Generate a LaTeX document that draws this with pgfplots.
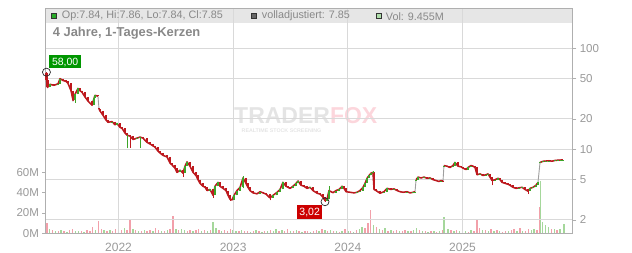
\documentclass[border=0pt]{standalone}
\usepackage{fontspec}
\setmainfont{Liberation Sans}
\setsansfont{Liberation Sans}
\usepackage{pgfplots}
\pgfplotsset{compat=1.18}
\definecolor{cred}{RGB}{190,25,30}
\definecolor{cgreen}{RGB}{60,165,40}
\definecolor{vpink}{RGB}{242,160,170}
\definecolor{vgreen}{RGB}{165,215,155}
\definecolor{lbl}{RGB}{153,153,153}
\definecolor{hdr}{RGB}{136,136,136}
\definecolor{gridc}{RGB}{217,217,217}
\definecolor{axc}{RGB}{175,175,175}
\definecolor{band}{RGB}{230,230,230}
\definecolor{tfgray}{RGB}{228,228,228}
\definecolor{tfpink}{RGB}{252,214,220}
\definecolor{lgreen}{RGB}{0,150,0}
\definecolor{lred}{RGB}{204,0,0}
\definecolor{hgreen}{RGB}{40,170,40}
\definecolor{hvol}{RGB}{175,222,170}
\begin{document}
\begin{tikzpicture}
\path[use as bounding box] (-45.5pt,-19.7pt) rectangle (586.5pt,233.3pt);
\fill[band] (0pt,210.6pt) rectangle (526.8pt,225pt);
\node[anchor=base west, inner sep=0pt, font=\bfseries\fontsize{23}{23}\selectfont] at (188.5pt,109.3pt) {\textcolor{tfgray}{TRADER}\textcolor{tfpink}{FOX}};
\node[font=\bfseries\fontsize{5.3}{5.3}\selectfont, text=tfgray, inner sep=0pt] at (236pt,102.5pt) {REALTIME STOCK SCREENING};
% volume axis
\begin{axis}[at={(0pt,0pt)}, anchor=south west, scale only axis, width=526.8pt, height=225pt,
  xmin=4.36, xmax=59.49, ymin=0, ymax=222,
  axis line style={draw=none}, xtick=\empty,
  ytick={0,20,40,60}, yticklabels={0M,20M,40M,60M},
  ytick pos=left, tick align=outside, major tick length=3pt,
  tick style={draw=axc, line width=0.6pt},
  yticklabel style={font=\fontsize{11.5}{11.5}\selectfont, text=lbl}]
\addplot[ycomb, draw=vpink, line width=1.4pt, mark=none] coordinates {
(4.5,10)(5.1,3)(5.7,2.5)(6.3,2)(6.9,3.5)(7.2,4)(8.1,2)(8.7,3)(9.0,2)(9.3,6)(9.9,12)(10.2,4)(10.8,2.5)(11.4,2)(11.7,4)(12.3,3)(12.9,3)(13.2,13)(13.8,3)(14.4,2)(15.0,2)(15.3,3)(15.9,5)(16.2,3)(16.8,2.5)(17.4,4)(17.7,17)(18.3,3)(19.2,2.5)(19.5,3.5)(20.1,3)(20.4,4)(21.0,3)(21.6,3)(22.5,3)(23.1,3)(23.4,2)(23.7,4.5)(24.6,2.5)(25.2,2)(25.5,2.5)(26.1,2)(26.7,2)(27.3,2.5)(27.9,3)(28.8,2.5)(29.4,2)(29.7,4)(30.3,2)(30.9,2)(31.5,2)(31.8,2.5)(32.4,2)(32.7,3)(33.3,4.5)(33.9,2.5)(34.5,2)(35.1,1.5)(35.7,4)(36.3,2)(36.9,3)(37.8,5)(38.1,10)(38.4,23)(39.0,6)(39.6,3)(40.2,2.5)(40.8,2)(41.1,3)(41.7,2.5)(42.0,3.5)(42.6,2)(43.5,3)(44.1,2)(44.7,2.5)(45.3,1.5)(45.9,3)(46.8,3)(47.4,3)(48.0,2.5)(48.6,1.5)(49.2,2)(49.5,13)(49.8,5)(50.4,3)(51.0,4)(51.6,3)(52.2,1.5)(52.5,2.5)(53.1,3)(53.4,4)(54.0,5)(54.6,2)(54.9,4)(55.8,3)(56.05,26)(57.3,4)(57.9,3)};
\addplot[ycomb, draw=vgreen, line width=1.4pt, mark=none] coordinates {
(4.8,4)(5.4,2)(6.0,3)(6.6,1.5)(7.5,2.5)(7.8,2)(8.4,1.5)(9.6,3)(10.5,3.5)(11.1,3)(12.0,2.5)(12.6,5)(13.5,4)(14.1,2.5)(14.7,3.5)(15.6,2)(16.5,2)(17.1,3)(18.0,4)(18.6,4.5)(18.9,3)(19.8,2)(20.7,2.5)(21.3,2)(21.9,11.5)(22.2,5)(22.8,2.5)(24.0,3)(24.3,2)(24.9,3.5)(25.8,1.5)(26.4,3)(27.0,1.5)(27.6,2)(28.2,2)(28.5,4)(29.1,3)(30.0,2.5)(30.6,3)(31.2,1.5)(32.1,1.5)(33.0,2)(33.6,3)(34.2,3.5)(34.8,2)(35.4,2.5)(36.0,2)(36.6,1.5)(37.2,4)(37.5,6)(38.7,8)(39.3,4)(39.9,5)(40.5,3)(41.4,2)(42.3,2)(42.9,3)(43.2,5)(43.8,2)(44.4,1.5)(45.0,2)(45.6,2)(46.06,15.6)(46.5,4)(47.1,2.5)(47.7,2)(48.3,2)(48.9,3)(50.1,3.5)(50.7,2.5)(51.3,2)(51.9,2)(52.8,2)(53.7,2)(54.3,2.5)(55.2,3)(55.5,4)(56.17,52)(56.4,11)(56.7,8)(57.0,6)(57.6,4.5)(58.2,4)(58.6,9.5)};
\end{axis}
% price axis
\begin{axis}[at={(0pt,0pt)}, anchor=south west, scale only axis, width=526.8pt, height=225pt,
  xmin=4.36, xmax=59.49, ymode=log, ymin=1.472, ymax=248.9,
  clip=false, unbounded coords=jump,
  axis line style={draw=axc, line width=0.8pt},
  xtick={12,24,36,48}, xticklabels={2022,2023,2024,2025}, xtick pos=left,
  x tick style={draw=none},
  xticklabel style={font=\fontsize{12}{12}\selectfont, text=lbl, yshift=-2.4pt},
  ytick={2,5,10,20,50,100}, yticklabels={2,5,10,20,50,100},
  ytick pos=right, yticklabel pos=right,
  y tick style={draw=axc, line width=0.6pt}, tick align=outside, major tick length=4pt,
  yticklabel style={font=\fontsize{11.5}{11.5}\selectfont, text=lbl},
  minor tick num=0,
  xmajorgrids, ymajorgrids, grid style={draw=gridc, line width=0.9pt}]
% adjusted close line
\addplot[draw=gray!75, line width=0.9pt, mark=none] coordinates {
(4.46,48)(4.57,41)(4.83,44)(5.25,43)(5.67,44.5)(5.88,50)(6.19,48)(6.51,47)(6.71,45)(7.03,38)(7.24,30.5)(7.45,35)(7.76,40)(7.97,38)(8.18,36.7)(8.49,33)(8.81,30)(9.23,27.3)(9.44,32)(9.54,34.2)(9.85,33.6)(9.96,25)(10.06,24)(10.38,21.7)(10.69,19.5)(10.90,18.5)(11.32,18.8)(11.63,17.5)(11.84,18)(12.16,16.5)(12.37,16.1)(12.68,14.5)(12.89,13.8)(13.20,13.5)(13.52,12.5)(13.94,12.9)(14.25,13.2)(14.56,12.9)(14.98,11.7)(15.29,11.3)(15.61,10.8)(15.82,10.5)(16.13,9.6)(16.34,9.2)(16.66,8.7)(17.08,8.4)(17.39,7.3)(17.60,7.0)(17.91,6.5)(18.12,5.9)(18.44,6.2)(18.75,5.8)(18.96,6.8)(19.17,7.5)(19.48,6.8)(19.80,5.9)(20.11,5.5)(20.32,5.0)(20.53,4.6)(20.85,4.3)(21.06,4.2)(21.27,3.9)(21.58,4.0)(21.89,3.5)(22.10,4.3)(22.41,4.7)(22.62,4.3)(22.94,4.1)(23.25,3.9)(23.46,3.5)(23.67,3.2)(23.88,3.15)(24.09,3.5)(24.40,3.9)(24.72,4.2)(25.03,5.2)(25.34,4.6)(25.55,4.2)(25.76,3.9)(26.08,3.7)(26.49,3.62)(26.81,3.8)(27.12,3.7)(27.44,3.6)(27.85,3.3)(28.17,3.5)(28.59,3.75)(28.90,4.0)(29.21,4.7)(29.53,4.3)(29.74,4.2)(29.95,4.1)(30.26,4.3)(30.58,4.6)(30.79,4.85)(31.10,4.4)(31.41,4.3)(31.73,4.1)(32.04,4.2)(32.36,3.9)(32.78,3.67)(33.09,3.6)(33.40,3.35)(33.61,3.1)(33.82,3.2)(34.03,3.9)(34.24,3.8)(34.45,3.72)(34.76,3.9)(35.08,4.0)(35.39,4.3)(35.60,4.1)(35.81,3.8)(36.23,3.75)(36.65,3.7)(36.96,3.75)(37.27,3.9)(37.59,4.2)(37.80,4.6)(38.01,5.16)(38.22,5.5)(38.43,5.8)(38.63,5.9)(38.74,4.0)(38.95,3.9)(39.37,3.67)(39.78,3.8)(40.10,4.1)(40.52,4.0)(40.83,4.05)(41.15,3.9)(41.46,3.8)(41.78,3.75)(42.19,3.8)(42.51,3.7)(42.82,3.75)(43.03,3.8)(43.14,5.0)(43.35,5.3)(43.66,5.2)(43.97,5.3)(44.29,5.16)(44.60,5.2)(44.92,5.0)(45.23,4.9)(45.54,4.8)(45.75,4.9)(45.96,4.85)(46.06,6.9)(46.38,6.8)(46.69,6.6)(47.00,6.9)(47.21,7.4)(47.53,6.8)(47.84,6.7)(48.05,6.5)(48.37,6.3)(48.58,6.6)(48.89,6.9)(49.10,6.8)(49.31,6.6)(49.52,5.6)(49.84,5.7)(50.15,5.5)(50.46,5.6)(50.67,5.7)(50.88,5.3)(51.09,4.9)(51.40,5.0)(51.72,5.16)(51.93,5.0)(52.14,4.7)(52.45,4.6)(52.76,4.5)(52.97,4.4)(53.29,4.2)(53.60,4.1)(53.91,4.15)(54.23,4.2)(54.54,4.0)(54.85,3.85)(55.06,4.1)(55.38,4.2)(55.69,4.4)(55.90,4.7)(56.11,7.4)(56.42,7.6)(56.73,7.65)(57.05,7.7)(57.36,7.62)(57.68,7.75)(57.99,7.8)(58.30,7.83)(58.51,7.85)};
% daily candle ribbon (close path, broken at gaps)
\addplot[draw=cred, line width=1.5pt, line join=round, mark=none] coordinates {
(4.46,48)(4.57,41)(4.83,44)(5.25,43)(5.67,44.5)(5.88,50)(6.19,48)(6.51,47)(6.71,45)(7.03,38)(7.24,30.5)(7.45,35)(7.76,40)(7.97,38)(8.18,36.7)(8.49,33)(8.81,30)(9.23,27.3)(9.44,32)(9.54,34.2)(9.85,33.6)(9.90,nan)(9.96,25)(10.06,24)(10.38,21.7)(10.69,19.5)(10.90,18.5)(11.32,18.8)(11.63,17.5)(11.84,18)(12.16,16.5)(12.37,16.1)(12.68,14.5)(12.89,13.8)(13.20,13.5)(13.52,12.5)(13.94,12.9)(14.25,13.2)(14.56,12.9)(14.98,11.7)(15.29,11.3)(15.61,10.8)(15.82,10.5)(16.13,9.6)(16.34,9.2)(16.66,8.7)(17.08,8.4)(17.39,7.3)(17.60,7.0)(17.91,6.5)(18.12,5.9)(18.44,6.2)(18.75,5.8)(18.96,6.8)(19.17,7.5)(19.48,6.8)(19.80,5.9)(20.11,5.5)(20.32,5.0)(20.53,4.6)(20.85,4.3)(21.06,4.2)(21.27,3.9)(21.58,4.0)(21.89,3.5)(22.10,4.3)(22.41,4.7)(22.62,4.3)(22.94,4.1)(23.25,3.9)(23.46,3.5)(23.67,3.2)(23.88,3.15)(24.09,3.5)(24.40,3.9)(24.72,4.2)(25.03,5.2)(25.34,4.6)(25.55,4.2)(25.76,3.9)(26.08,3.7)(26.49,3.62)(26.81,3.8)(27.12,3.7)(27.44,3.6)(27.85,3.3)(28.17,3.5)(28.59,3.75)(28.90,4.0)(29.21,4.7)(29.53,4.3)(29.74,4.2)(29.95,4.1)(30.26,4.3)(30.58,4.6)(30.79,4.85)(31.10,4.4)(31.41,4.3)(31.73,4.1)(32.04,4.2)(32.36,3.9)(32.78,3.67)(33.09,3.6)(33.40,3.35)(33.61,3.1)(33.82,3.2)(34.03,3.9)(34.24,3.8)(34.45,3.72)(34.76,3.9)(35.08,4.0)(35.39,4.3)(35.60,4.1)(35.81,3.8)(36.23,3.75)(36.65,3.7)(36.96,3.75)(37.27,3.9)(37.59,4.2)(37.80,4.6)(38.01,5.16)(38.22,5.5)(38.43,5.8)(38.63,5.9)(38.74,4.0)(38.95,3.9)(39.37,3.67)(39.78,3.8)(40.10,4.1)(40.52,4.0)(40.83,4.05)(41.15,3.9)(41.46,3.8)(41.78,3.75)(42.19,3.8)(42.51,3.7)(42.82,3.75)(43.03,3.8)(43.08,nan)(43.14,5.0)(43.35,5.3)(43.66,5.2)(43.97,5.3)(44.29,5.16)(44.60,5.2)(44.92,5.0)(45.23,4.9)(45.54,4.8)(45.75,4.9)(45.96,4.85)(46.01,nan)(46.06,6.9)(46.38,6.8)(46.69,6.6)(47.00,6.9)(47.21,7.4)(47.53,6.8)(47.84,6.7)(48.05,6.5)(48.37,6.3)(48.58,6.6)(48.89,6.9)(49.10,6.8)(49.31,6.6)(49.52,5.6)(49.84,5.7)(50.15,5.5)(50.46,5.6)(50.67,5.7)(50.88,5.3)(51.09,4.9)(51.40,5.0)(51.72,5.16)(51.93,5.0)(52.14,4.7)(52.45,4.6)(52.76,4.5)(52.97,4.4)(53.29,4.2)(53.60,4.1)(53.91,4.15)(54.23,4.2)(54.54,4.0)(54.85,3.85)(55.06,4.1)(55.38,4.2)(55.69,4.4)(55.90,4.7)(56.00,nan)(56.11,7.4)(56.42,7.6)(56.73,7.65)(57.05,7.7)(57.36,7.62)(57.68,7.75)(57.99,7.8)(58.30,7.83)(58.51,7.85)};
% red wicks
\addplot[draw=cred, line width=0.7pt, mark=none] coordinates {
(4.46,45)(4.46,58)(4.46,nan)(13.20,10.3)(13.20,14)(13.20,nan)(18.75,5.3)(18.75,6.2)(18.75,nan)(21.89,3.3)(21.89,4.0)(21.89,nan)(23.67,3.08)(23.67,3.5)(23.67,nan)(27.85,3.12)(27.85,3.6)(27.85,nan)(33.61,3.02)(33.61,3.35)(33.61,nan)(51.09,4.4)(51.09,5.3)(51.09,nan)(54.85,3.6)(54.85,4.0)(54.85,nan)(49.52,5.5)(49.52,6.7)(49.52,nan)};
% green wicks
\addplot[draw=cgreen, line width=0.7pt, mark=none] coordinates {
(12.89,10.2)(12.89,14.5)(12.89,nan)(14.25,10.3)(14.25,13.3)(14.25,nan)(7.45,29)(7.45,35)(7.45,nan)(34.03,3.2)(34.03,4.3)(34.03,nan)(25.03,4.1)(25.03,5.4)(25.03,nan)(38.63,5.6)(38.63,6.1)(38.63,nan)};
% red bodies
\addplot[draw=cred, line width=2.4pt, line cap=butt, mark=none] coordinates {
(4.46,57.5)(4.46,48)(4.46,nan)(4.57,48)(4.57,41)(4.57,nan)(5.25,44)(5.25,43)(5.25,nan)(6.19,50)(6.19,48)(6.19,nan)(6.51,48)(6.51,47)(6.51,nan)(6.71,47)(6.71,45)(6.71,nan)(7.03,45)(7.03,38)(7.03,nan)(7.24,38)(7.24,30.5)(7.24,nan)(7.97,40)(7.97,38)(7.97,nan)(8.18,38)(8.18,36.7)(8.18,nan)(8.49,36.7)(8.49,33)(8.49,nan)(8.81,33)(8.81,30)(8.81,nan)(9.23,30)(9.23,27.3)(9.23,nan)(9.85,34.2)(9.85,33.6)(9.85,nan)(9.96,25.6)(9.96,25)(9.96,nan)(10.06,25)(10.06,24)(10.06,nan)(10.38,24)(10.38,21.7)(10.38,nan)(10.69,21.7)(10.69,19.5)(10.69,nan)(10.90,19.5)(10.90,18.5)(10.90,nan)(11.63,18.8)(11.63,17.5)(11.63,nan)(12.16,18)(12.16,16.5)(12.16,nan)(12.37,16.5)(12.37,16.1)(12.37,nan)(12.68,16.1)(12.68,14.5)(12.68,nan)(12.89,14.5)(12.89,13.8)(12.89,nan)(13.20,13.8)(13.20,13.5)(13.20,nan)(13.52,13.5)(13.52,12.5)(13.52,nan)(14.56,13.2)(14.56,12.9)(14.56,nan)(14.98,12.9)(14.98,11.7)(14.98,nan)(15.29,11.7)(15.29,11.3)(15.29,nan)(15.61,11.3)(15.61,10.8)(15.61,nan)(15.82,10.8)(15.82,10.5)(15.82,nan)(16.13,10.5)(16.13,9.6)(16.13,nan)(16.34,9.6)(16.34,9.2)(16.34,nan)(16.66,9.2)(16.66,8.7)(16.66,nan)(17.08,8.7)(17.08,8.4)(17.08,nan)(17.39,8.4)(17.39,7.3)(17.39,nan)(17.60,7.3)(17.60,7.0)(17.60,nan)(17.91,7.0)(17.91,6.5)(17.91,nan)(18.12,6.5)(18.12,5.9)(18.12,nan)(18.75,6.2)(18.75,5.8)(18.75,nan)(19.48,7.5)(19.48,6.8)(19.48,nan)(19.80,6.8)(19.80,5.9)(19.80,nan)(20.11,5.9)(20.11,5.5)(20.11,nan)(20.32,5.5)(20.32,5.0)(20.32,nan)(20.53,5.0)(20.53,4.6)(20.53,nan)(20.85,4.6)(20.85,4.3)(20.85,nan)(21.06,4.3)(21.06,4.2)(21.06,nan)(21.27,4.2)(21.27,3.9)(21.27,nan)(21.89,4.0)(21.89,3.5)(21.89,nan)(22.62,4.7)(22.62,4.3)(22.62,nan)(22.94,4.3)(22.94,4.1)(22.94,nan)(23.25,4.1)(23.25,3.9)(23.25,nan)(23.46,3.9)(23.46,3.5)(23.46,nan)(23.67,3.5)(23.67,3.2)(23.67,nan)(23.88,3.2)(23.88,3.15)(23.88,nan)(25.34,5.2)(25.34,4.6)(25.34,nan)(25.55,4.6)(25.55,4.2)(25.55,nan)(25.76,4.2)(25.76,3.9)(25.76,nan)(26.08,3.9)(26.08,3.7)(26.08,nan)(26.49,3.7)(26.49,3.62)(26.49,nan)(27.12,3.8)(27.12,3.7)(27.12,nan)(27.44,3.7)(27.44,3.6)(27.44,nan)(27.85,3.6)(27.85,3.3)(27.85,nan)(29.53,4.7)(29.53,4.3)(29.53,nan)(29.74,4.3)(29.74,4.2)(29.74,nan)(29.95,4.2)(29.95,4.1)(29.95,nan)(31.10,4.85)(31.10,4.4)(31.10,nan)(31.41,4.4)(31.41,4.3)(31.41,nan)(31.73,4.3)(31.73,4.1)(31.73,nan)(32.36,4.2)(32.36,3.9)(32.36,nan)(32.78,3.9)(32.78,3.67)(32.78,nan)(33.09,3.67)(33.09,3.6)(33.09,nan)(33.40,3.6)(33.40,3.35)(33.40,nan)(33.61,3.35)(33.61,3.1)(33.61,nan)(34.24,3.9)(34.24,3.8)(34.24,nan)(34.45,3.8)(34.45,3.72)(34.45,nan)(35.60,4.3)(35.60,4.1)(35.60,nan)(35.81,4.1)(35.81,3.8)(35.81,nan)(36.23,3.8)(36.23,3.75)(36.23,nan)(36.65,3.75)(36.65,3.7)(36.65,nan)(38.74,5.9)(38.74,4.0)(38.74,nan)(38.95,4.0)(38.95,3.9)(38.95,nan)(39.37,3.9)(39.37,3.67)(39.37,nan)(40.52,4.1)(40.52,4.0)(40.52,nan)(41.15,4.05)(41.15,3.9)(41.15,nan)(41.46,3.9)(41.46,3.8)(41.46,nan)(41.78,3.8)(41.78,3.75)(41.78,nan)(42.51,3.8)(42.51,3.7)(42.51,nan)(43.66,5.3)(43.66,5.2)(43.66,nan)(44.29,5.3)(44.29,5.16)(44.29,nan)(44.92,5.2)(44.92,5.0)(44.92,nan)(45.23,5.0)(45.23,4.9)(45.23,nan)(45.54,4.9)(45.54,4.8)(45.54,nan)(45.96,4.9)(45.96,4.85)(45.96,nan)(46.38,6.9)(46.38,6.8)(46.38,nan)(46.69,6.8)(46.69,6.6)(46.69,nan)(47.53,7.4)(47.53,6.8)(47.53,nan)(47.84,6.8)(47.84,6.7)(47.84,nan)(48.05,6.7)(48.05,6.5)(48.05,nan)(48.37,6.5)(48.37,6.3)(48.37,nan)(49.10,6.9)(49.10,6.8)(49.10,nan)(49.31,6.8)(49.31,6.6)(49.31,nan)(49.52,6.6)(49.52,5.6)(49.52,nan)(50.15,5.7)(50.15,5.5)(50.15,nan)(50.88,5.7)(50.88,5.3)(50.88,nan)(51.09,5.3)(51.09,4.9)(51.09,nan)(51.93,5.16)(51.93,5.0)(51.93,nan)(52.14,5.0)(52.14,4.7)(52.14,nan)(52.45,4.7)(52.45,4.6)(52.45,nan)(52.76,4.6)(52.76,4.5)(52.76,nan)(52.97,4.5)(52.97,4.4)(52.97,nan)(53.29,4.4)(53.29,4.2)(53.29,nan)(53.60,4.2)(53.60,4.1)(53.60,nan)(54.54,4.2)(54.54,4.0)(54.54,nan)(54.85,4.0)(54.85,3.85)(54.85,nan)(57.36,7.7)(57.36,7.62)(57.36,nan)};
% green bodies
\addplot[draw=cgreen, line width=2.4pt, line cap=butt, mark=none] coordinates {
(4.83,41)(4.83,44)(4.83,nan)(5.67,43)(5.67,44.5)(5.67,nan)(5.88,44.5)(5.88,50)(5.88,nan)(7.45,30.5)(7.45,35)(7.45,nan)(7.76,35)(7.76,40)(7.76,nan)(9.44,27.3)(9.44,32)(9.44,nan)(9.54,32)(9.54,34.2)(9.54,nan)(11.32,18.5)(11.32,18.8)(11.32,nan)(11.84,17.5)(11.84,18)(11.84,nan)(13.94,12.5)(13.94,12.9)(13.94,nan)(14.25,12.9)(14.25,13.2)(14.25,nan)(18.44,5.9)(18.44,6.2)(18.44,nan)(18.96,5.8)(18.96,6.8)(18.96,nan)(19.17,6.8)(19.17,7.5)(19.17,nan)(21.58,3.9)(21.58,4.0)(21.58,nan)(22.10,3.5)(22.10,4.3)(22.10,nan)(22.41,4.3)(22.41,4.7)(22.41,nan)(24.09,3.15)(24.09,3.5)(24.09,nan)(24.40,3.5)(24.40,3.9)(24.40,nan)(24.72,3.9)(24.72,4.2)(24.72,nan)(25.03,4.2)(25.03,5.2)(25.03,nan)(26.81,3.62)(26.81,3.8)(26.81,nan)(28.17,3.3)(28.17,3.5)(28.17,nan)(28.59,3.5)(28.59,3.75)(28.59,nan)(28.90,3.75)(28.90,4.0)(28.90,nan)(29.21,4.0)(29.21,4.7)(29.21,nan)(30.26,4.1)(30.26,4.3)(30.26,nan)(30.58,4.3)(30.58,4.6)(30.58,nan)(30.79,4.6)(30.79,4.85)(30.79,nan)(32.04,4.1)(32.04,4.2)(32.04,nan)(33.82,3.1)(33.82,3.2)(33.82,nan)(34.03,3.2)(34.03,3.9)(34.03,nan)(34.76,3.72)(34.76,3.9)(34.76,nan)(35.08,3.9)(35.08,4.0)(35.08,nan)(35.39,4.0)(35.39,4.3)(35.39,nan)(36.96,3.7)(36.96,3.75)(36.96,nan)(37.27,3.75)(37.27,3.9)(37.27,nan)(37.59,3.9)(37.59,4.2)(37.59,nan)(37.80,4.2)(37.80,4.6)(37.80,nan)(38.01,4.6)(38.01,5.16)(38.01,nan)(38.22,5.16)(38.22,5.5)(38.22,nan)(38.43,5.5)(38.43,5.8)(38.43,nan)(38.63,5.8)(38.63,5.9)(38.63,nan)(39.78,3.67)(39.78,3.8)(39.78,nan)(40.10,3.8)(40.10,4.1)(40.10,nan)(40.83,4.0)(40.83,4.05)(40.83,nan)(42.19,3.75)(42.19,3.8)(42.19,nan)(42.82,3.7)(42.82,3.75)(42.82,nan)(43.03,3.75)(43.03,3.8)(43.03,nan)(43.14,4.95)(43.14,5.0)(43.14,nan)(43.35,5.0)(43.35,5.3)(43.35,nan)(43.97,5.2)(43.97,5.3)(43.97,nan)(44.60,5.16)(44.60,5.2)(44.60,nan)(45.75,4.8)(45.75,4.9)(45.75,nan)(46.06,6.8)(46.06,6.9)(46.06,nan)(47.00,6.6)(47.00,6.9)(47.00,nan)(47.21,6.9)(47.21,7.4)(47.21,nan)(48.58,6.3)(48.58,6.6)(48.58,nan)(48.89,6.6)(48.89,6.9)(48.89,nan)(49.84,5.6)(49.84,5.7)(49.84,nan)(50.46,5.5)(50.46,5.6)(50.46,nan)(50.67,5.6)(50.67,5.7)(50.67,nan)(51.40,4.9)(51.40,5.0)(51.40,nan)(51.72,5.0)(51.72,5.16)(51.72,nan)(53.91,4.1)(53.91,4.15)(53.91,nan)(54.23,4.15)(54.23,4.2)(54.23,nan)(55.06,3.85)(55.06,4.1)(55.06,nan)(55.38,4.1)(55.38,4.2)(55.38,nan)(55.69,4.2)(55.69,4.4)(55.69,nan)(55.90,4.4)(55.90,4.7)(55.90,nan)(56.11,7.3)(56.11,7.4)(56.11,nan)(56.42,7.4)(56.42,7.6)(56.42,nan)(56.73,7.6)(56.73,7.65)(56.73,nan)(57.05,7.65)(57.05,7.7)(57.05,nan)(57.68,7.62)(57.68,7.75)(57.68,nan)(57.99,7.75)(57.99,7.8)(57.99,nan)(58.30,7.8)(58.30,7.83)(58.30,nan)(58.51,7.83)(58.51,7.85)(58.51,nan)};
% high / low markers
\addplot[only marks, mark=o, mark size=4pt, mark options={draw=black!85, line width=0.7pt, fill=none}] coordinates {(4.46,58)(33.61,3.02)};
\node[fill=lgreen, text=white, font=\fontsize{10.5}{10.5}\selectfont, inner xsep=2.6pt, inner ysep=2.8pt, text height=7.5pt, text depth=0.2pt, anchor=south west] at ([xshift=2.8pt,yshift=3.9pt]axis cs:4.46,58) {58,00};
\node[fill=lred, text=white, font=\fontsize{10.5}{10.5}\selectfont, inner xsep=2.3pt, inner ysep=2.8pt, text height=7.5pt, text depth=0.2pt, anchor=north east] at ([xshift=-2.6pt,yshift=-3.3pt]axis cs:33.61,3.02) {3,02};
\end{axis}
% header
\fill[hgreen, draw=black!80, line width=0.5pt] (5.8pt,214.6pt) rectangle (11pt,219.8pt);
\node[anchor=west, inner sep=0pt, text=hdr, font=\fontsize{10.8}{10.8}\selectfont] at (16.2pt,217.1pt) {Op:7.84, Hi:7.86, Lo:7.84, Cl:7.85};
\fill[black!60, draw=black!80, line width=0.5pt] (205.4pt,214.6pt) rectangle (210.6pt,219.8pt);
\node[anchor=west, inner sep=0pt, text=hdr, font=\fontsize{10.8}{10.8}\selectfont] at (216.2pt,217.1pt) {volladjustiert: 7.85};
\fill[hvol, draw=black!80, line width=0.5pt] (330.3pt,214.6pt) rectangle (335.5pt,219.8pt);
\node[anchor=west, inner sep=0pt, text=hdr, font=\fontsize{10.8}{10.8}\selectfont] at (340.2pt,217.1pt) {Vol: 9.455M};
\node[anchor=west, inner sep=0pt, text=hdr, font=\bfseries\fontsize{12.9}{12.9}\selectfont] at (7.2pt,200pt) {4 Jahre, 1-Tages-Kerzen};
\end{tikzpicture}
\end{document}
